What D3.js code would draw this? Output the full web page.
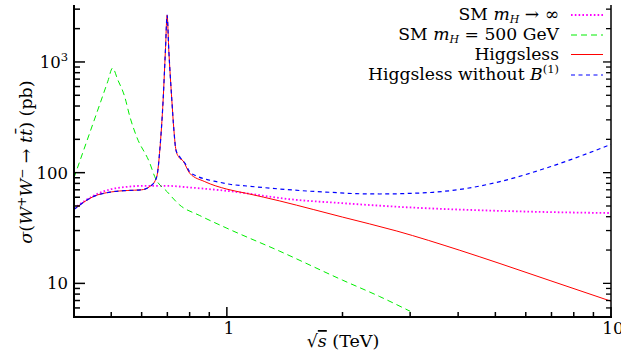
<!DOCTYPE html>
<head>
	<meta charset="UTF-8">
	<script src="https://d3js.org/d3.v7.min.js"></script>
<style>
	body{ margin: 0; background-color: #fff; }
	text{ font-family: 'DejaVu Serif', serif; fill: #000; }
</style>
</head>
<body>
	<svg width=621 height=356></svg>
</body>
<script>
	// sqrt(s) in TeV, sigma in pb
	var smInf = [[0.4,47.5],[0.45,62],[0.5,71],[0.55,74.5],[0.6,76],[0.7,76],[0.8,73.5],[1.0,68.5],
		[1.5,57],[2,53],[3,48.5],[5,45.3],[7,44],[10,43.2]];
	var sm500 = [[0.4,90],[0.44,231],[0.47,443],[0.49,670],[0.504,880],[0.52,690],[0.542,486],[0.559,321],
		[0.582,212],[0.63,122],[0.649,92],[0.70,67],[0.754,51],[0.85,41],[1.0,31.5],[1.374,19.5],[2,10.7],
		[2.5,7.6],[3,5.6]];
	var higgsless = [[0.4,46.5],[0.45,61],[0.5,67],[0.55,69],[0.6,70],[0.63,75],[0.65,84],[0.66,100],
		[0.669,160],[0.6825,454],[0.692,1285],[0.699,2650],[0.706,1285],[0.719,454],[0.728,243],[0.737,160],
		[0.75,138],[0.769,128],[0.80,99],[0.876,83],[1.0,71],[1.126,65],[1.374,55.5],[1.678,46.5],[2,39.7],
		[2.77,29.7],[4.04,19.9],[5.14,15.1],[6.94,10.6],[10,6.9]];
	var noB1 = [[0.4,46.5],[0.45,61],[0.5,67],[0.55,69],[0.6,70],[0.63,75],[0.65,84],[0.66,100],
		[0.669,160],[0.6825,454],[0.692,1285],[0.699,2650],[0.706,1285],[0.719,454],[0.728,243],[0.737,160],
		[0.754,139],[0.78,120],[0.80,102],[0.834,93.3],[0.885,87],[0.94,83],[1.018,78.6],[1.126,75.8],
		[1.374,71.2],[1.612,68.3],[1.854,66.5],[2.177,64.6],[2.5,64.2],[3.0,65],[3.44,66.5],[4.2,72],
		[5.14,83],[6.94,113],[10,180]];

	var xLabels = [1, 10];
	var yLabels = [10, 100, 1000];

	var svg = d3.select("svg");

	var x = d3.scaleLog().domain([0.4, 10]).range([74, 611]);
	var y = d3.scaleLog().domain([5, 3270]).range([316.7, 5]);

	var isMajor = function(v){ return Math.abs(Math.log10(v) - Math.round(Math.log10(v))) < 1e-6; };

	// Clip
	svg.append("clipPath").attr("id", "plotClip")
		.append("rect").attr("x", 74).attr("y", 0).attr("width", 537).attr("height", 317);

	// Curves
	var line = d3.line()
		.x(function(d){ return x(d[0]); })
		.y(function(d){ return y(d[1]); })
		.curve(d3.curveMonotoneX);

	var series = [
		{data: smInf, color: "#ff00ff", dash: "1.6,2.2", width: 1.8},
		{data: sm500, color: "#00ee00", dash: "6,4", width: 1},
		{data: higgsless, color: "#ff0000", dash: null, width: 1},
		{data: noB1, color: "#0000ff", dash: "4,3.5", width: 1.2}
	];

	var curves = svg.append("g").attr("clip-path", "url(#plotClip)");
	series.forEach(function(s){
		curves.append("path")
			.attr("d", line(s.data))
			.attr("fill", "none")
			.attr("stroke", s.color)
			.attr("stroke-width", s.width)
			.attr("stroke-dasharray", s.dash);
	});

	// Axes frame
	var axes = svg.append("g").attr("stroke", "#000");
	axes.append("line").attr("x1", 74).attr("y1", 5).attr("x2", 74).attr("y2", 317.5).attr("stroke-width", 2);
	axes.append("line").attr("x1", 73).attr("y1", 317).attr("x2", 612).attr("y2", 317).attr("stroke-width", 2);
	axes.append("line").attr("x1", 611).attr("y1", 5).attr("x2", 611).attr("y2", 317.5).attr("stroke-width", 1.5);

	// Ticks
	axes.selectAll(".yl").data(y.ticks()).enter().append("line")
		.attr("x1", 74).attr("x2", function(d){ return isMajor(d) ? 85 : 80; })
		.attr("y1", function(d){ return y(d); }).attr("y2", function(d){ return y(d); })
		.attr("stroke-width", 1.5);
	axes.selectAll(".yr").data(y.ticks()).enter().append("line")
		.attr("x1", 611).attr("x2", function(d){ return isMajor(d) ? 603 : 606; })
		.attr("y1", function(d){ return y(d); }).attr("y2", function(d){ return y(d); })
		.attr("stroke-width", 1.3);
	axes.selectAll(".xb").data(x.ticks()).enter().append("line")
		.attr("x1", function(d){ return x(d); }).attr("x2", function(d){ return x(d); })
		.attr("y1", 317).attr("y2", function(d){ return isMajor(d) ? 307 : 312; })
		.attr("stroke-width", 1.5);

	// Tick labels
	svg.selectAll(".xlab").data(xLabels).enter().append("text")
		.attr("x", function(d){ return x(d) + 2; })
		.attr("y", 334)
		.attr("text-anchor", "middle")
		.attr("font-size", 17)
		.text(function(d){ return d; });

	var ylab = svg.selectAll(".ylab").data(yLabels).enter().append("text")
		.attr("x", 68)
		.attr("y", function(d){ return y(d) + 6; })
		.attr("text-anchor", "end")
		.attr("font-size", 16.5);
	ylab.each(function(d){
		var t = d3.select(this);
		if(d >= 1000){
			t.append("tspan").text("10");
			t.append("tspan").attr("dy", -7).attr("font-size", 11.5).text(Math.round(Math.log10(d)));
		} else {
			t.text(d);
		}
	});

	// Axis titles
	var xt = svg.append("text")
		.attr("x", 343).attr("y", 347)
		.attr("text-anchor", "middle")
		.attr("font-size", 17.5);
	xt.append("tspan").text("\u221A");
	xt.append("tspan").attr("font-style", "italic").style("text-decoration", "overline").text("s");
	xt.append("tspan").text(" (TeV)");

	var yt = svg.append("text")
		.attr("transform", "translate(32,162) rotate(-90)")
		.attr("text-anchor", "middle")
		.attr("font-size", 17.5);
	yt.append("tspan").attr("font-style", "italic").text("\u03C3");
	yt.append("tspan").text("(");
	yt.append("tspan").attr("font-style", "italic").text("W");
	yt.append("tspan").attr("dy", -6).attr("font-size", 12).text("+");
	yt.append("tspan").attr("dy", 6).attr("font-style", "italic").text("W");
	yt.append("tspan").attr("dy", -6).attr("font-size", 12).text("\u2212");
	yt.append("tspan").attr("dy", 6).text(" \u2192 ");
	yt.append("tspan").attr("font-style", "italic").text("t");
	yt.append("tspan").attr("font-style", "italic").text("t\u0304");
	yt.append("tspan").text(") (pb)");

	// Legend
	var legendRows = [
		{parts: [["SM ", null], ["m", "i"], ["H", "sub"], [" \u2192 \u221E", null]]},
		{parts: [["SM ", null], ["m", "i"], ["H", "sub"], [" = 500 GeV", null]]},
		{parts: [["Higgsless", null]]},
		{parts: [["Higgsless without ", null], ["B", "i"], ["(1)", "sup"]]}
	];
	var legendY = [15, 35, 54.5, 75];

	var legend = svg.append("g").attr("id", "legend");
	legendRows.forEach(function(r, i){
		var t = legend.append("text")
			.attr("x", 559).attr("y", legendY[i] + 5)
			.attr("text-anchor", "end")
			.attr("font-size", 17.2);
		var shift = 0;
		r.parts.forEach(function(p){
			var ts = t.append("tspan").text(p[0]);
			var dy = 0;
			if(p[1] == "i") ts.attr("font-style", "italic");
			if(p[1] == "sub"){ ts.attr("font-style", "italic").attr("font-size", 11); dy = 3; }
			if(p[1] == "sup"){ ts.attr("font-size", 11.5); dy = -7; }
			ts.attr("dy", dy - shift);
			shift = dy;
		});
		legend.append("line")
			.attr("x1", 571).attr("x2", 603)
			.attr("y1", legendY[i]).attr("y2", legendY[i])
			.attr("stroke", series[i].color)
			.attr("stroke-width", series[i].width)
			.attr("stroke-dasharray", series[i].dash);
	});
</script>
